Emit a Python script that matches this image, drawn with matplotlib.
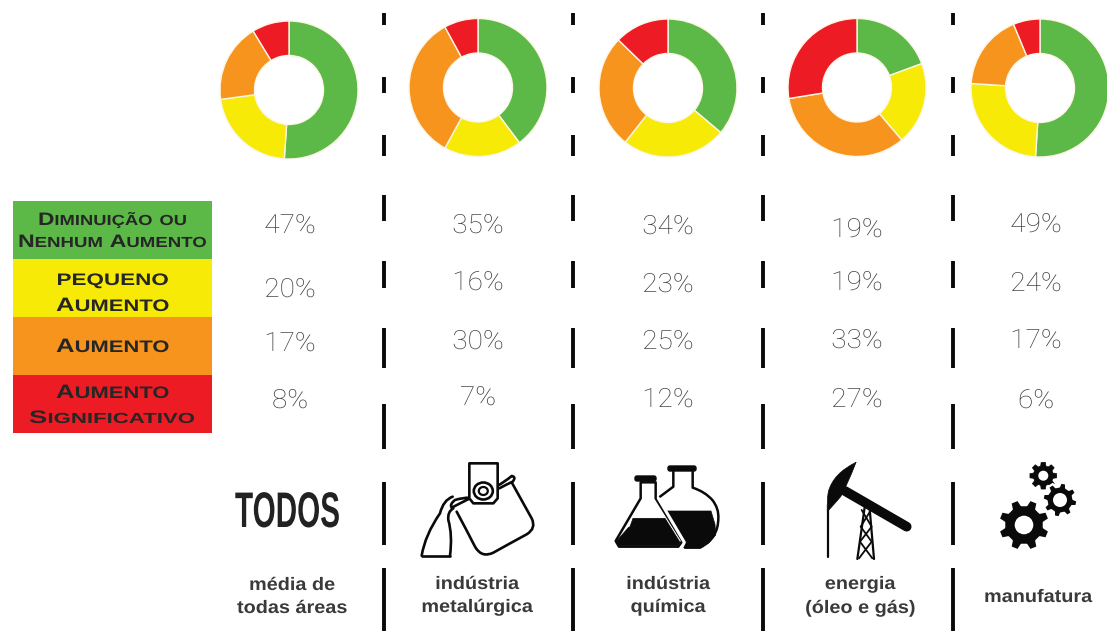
"""
Donut panel - industry sectors, recreated in pixel coordinates.
"""
import re
import numpy as np
import matplotlib
matplotlib.use("Agg")
import matplotlib.pyplot as plt
from matplotlib.patches import Rectangle, Circle, Ellipse, Polygon, FancyBboxPatch, PathPatch
from matplotlib.path import Path
from matplotlib.patheffects import AbstractPathEffect
from matplotlib.transforms import Affine2D

# data
SECTORS = ["todos", "metalurgica", "quimica", "energia", "manufatura"]
DIMINUICAO = [47, 35, 34, 19, 49]
PEQUENO = [20, 16, 23, 19, 24]
AUMENTO = [17, 30, 25, 33, 17]
SIGNIFICATIVO = [8, 7, 12, 27, 6]
LEGEND_LABELS = [["Diminuição ou", "Nenhum Aumento"], ["pequeno", "Aumento"],
                 ["Aumento"], ["Aumento", "Significativo"]]
SECTOR_LABELS = [["média de", "todas áreas"], ["indústria", "metalúrgica"],
                 ["indústria", "química"], ["energia", "(óleo e gás)"], ["manufatura"]]
COLORS = ["#5cb947", "#f6ea06", "#f7941d", "#ed1c24"]

W, H = 1107, 631
DARK = "#3a3a3a"
INK = "#0a0a0a"

# layout in picture pixels
DONUTS = [(289, 90), (478, 87.5), (668, 88), (857, 87.5), (1040, 88)]
RADIUS = 69
PCT_X = [290, 478, 668, 857, 1036]
PCT_Y = [[233, 297, 351, 408], [233, 290, 349, 405], [234, 292, 349, 407],
         [237, 290, 348, 407], [232, 291, 348, 408]]
DASH_X = [383.5, 573, 763, 953]
DASHES = [(13, 25), (77, 93), (135, 156), (195, 221), (261, 288), (328, 368),
          (404, 449), (482, 545), (568, 631)]
LEGEND_TOP = [201, 259, 317, 375, 433]
LEGEND_LINES = [[(225, 149), (247, 189)], [(285, 112), (311, 113)], [(352, 113)],
                [(398, 113), (423, 167)]]
LABEL_X = [292, 477, 668, 860, 1038]
LABEL_Y = [[590, 613], [589, 612], [589, 612], [589, 613], [602]]


class Stretch(AbstractPathEffect):
    """Scale drawn text horizontally about a pixel x."""
    def __init__(self, sx, x0):
        super().__init__()
        self.sx = sx
        self.x0 = x0

    def draw_path(self, renderer, gc, tpath, affine, rgbFace=None):
        t = affine + Affine2D().translate(-self.x0, 0).scale(self.sx, 1).translate(self.x0, 0)
        renderer.draw_path(gc, tpath, t, rgbFace)


fig = plt.figure(figsize=(W / 100, H / 100), dpi=100, facecolor="white")
ax = fig.add_axes([0, 0, 1, 1])

# donuts
for i in range(len(SECTORS)):
    vals = [DIMINUICAO[i], PEQUENO[i], AUMENTO[i], SIGNIFICATIVO[i]]
    ax.pie(vals, colors=COLORS, center=DONUTS[i], radius=RADIUS, startangle=-90,
           counterclock=True, frame=True,
           wedgeprops=dict(width=RADIUS * 0.5, edgecolor="#fdf6e6", linewidth=1))

ax.set_xlim(0, W)
ax.set_ylim(H, 0)
ax.axis("off")

# dashed separators
for x in DASH_X:
    for y0, y1 in DASHES:
        ax.plot([x, x], [y0, y1], color=INK, lw=2.8, solid_capstyle="butt")

# percent labels
for i in range(len(SECTORS)):
    vals = [DIMINUICAO[i], PEQUENO[i], AUMENTO[i], SIGNIFICATIVO[i]]
    for j in range(4):
        t = ax.text(PCT_X[i], PCT_Y[i][j], "%d%%" % vals[j], ha="center", va="baseline",
                    family="Roboto", weight="light", fontsize=19, color=DARK)
        t.set_path_effects([Stretch(1.06, PCT_X[i])])

# legend
renderer = fig.canvas.get_renderer()
for k in range(4):
    ax.add_patch(Rectangle((13, LEGEND_TOP[k]), 199, LEGEND_TOP[k + 1] - LEGEND_TOP[k],
                           facecolor=COLORS[k], edgecolor="none"))
    for line, (base, width) in zip(LEGEND_LABELS[k], LEGEND_LINES[k]):
        x = 0
        runs = []
        big_size, small_size = (14, 12) if width <= 113 else (13, 10.5)
        for part in re.findall(r"[A-Z]+|[a-zçã]+| ", line):
            if part == " ":
                x += 5
                continue
            big = part.isupper()
            t = ax.text(x, base, part.upper(), ha="left", va="baseline", family="Liberation Sans",
                        weight="bold", fontsize=big_size if big else small_size, color="#262626")
            w = t.get_window_extent(renderer).width
            runs.append((t, x))
            x += w
        x0 = 112.5 - width / 2
        for t, rx in runs:
            t.set_x(x0 + rx)
            t.set_path_effects([Stretch(width / x, x0)])

# sector labels
for i in range(len(SECTORS)):
    for line, y in zip(SECTOR_LABELS[i], LABEL_Y[i]):
        t = ax.text(LABEL_X[i], y, line, ha="center", va="baseline", family="Liberation Sans",
                    weight="bold", fontsize=13, color=DARK)
        t.set_path_effects([Stretch(1.1, LABEL_X[i])])

# TODOS word
t = ax.text(235, 527, "TODOS", ha="left", va="baseline", family="Liberation Sans",
            weight="bold", fontsize=36, color="#222222")
t.set_path_effects([Stretch(105 / t.get_window_extent(renderer).width, 235)])


def ink(points, closed=False, lw=2.0, face="none", ec=INK, z=3):
    """Straight outline through points given in pixels."""
    pts = np.array(points, dtype=float)
    ax.add_patch(Polygon(pts, closed=closed, facecolor=face, edgecolor=ec, lw=lw,
                         joinstyle="round", capstyle="round", zorder=z))


def curve(points, lw=2.0, face="none", ec=INK, z=3):
    """Quadratic spline: pairs of control and end points after the start."""
    codes = [Path.MOVETO] + [Path.CURVE3] * (len(points) - 1)
    ax.add_patch(PathPatch(Path(points, codes), facecolor=face, edgecolor=ec, lw=lw,
                           joinstyle="round", capstyle="round", zorder=z))


# metallurgy icon (zoom coordinates / 3 + origin)
def mx(pts):
    return [(410 + a / 3, 455 + b / 3) for a, b in pts]


curve(mx([(305, 82), (335, 136), (365, 190), (380, 220), (350, 238), (300, 265), (250, 293),
          (215, 310), (195, 275), (168, 222), (140, 170)]), lw=1.9)
curve(mx([(263, 92), (285, 80), (305, 63), (320, 65), (308, 80), (290, 88), (268, 100)]), lw=1.9)
curve(mx([(180, 130), (150, 145), (125, 158), (118, 148), (135, 135), (158, 128), (178, 128)]), lw=1.9)
ink(mx([(178, 25), (263, 25), (263, 130), (250, 145), (190, 145), (178, 130)]), closed=True, lw=1.9, face="white", z=4)
ax.add_patch(Ellipse((483.3, 491), 19, 17, facecolor="none", edgecolor=INK, lw=1.9, zorder=5))
ax.add_patch(Ellipse((483.3, 491), 9, 8, facecolor="none", edgecolor=INK, lw=1.6, zorder=5))
curve(mx([(128, 125), (100, 135), (90, 175), (45, 240), (35, 302)]), lw=1.9)
ink(mx([(35, 302), (120, 302)]), lw=1.9)
curve(mx([(120, 302), (128, 240), (115, 195), (112, 170), (130, 160)]), lw=1.9)


# flasks icon
def fx(pts):
    return [(605 + a / 3, 455 + b / 3) for a, b in pts]


# right flask first, left one on top with a white halo
ink(fx([(205, 50), (205, 95), (165, 125)]), lw=1.8)
curve(fx([(263, 50), (263, 72), (263, 98), (300, 110), (322, 135), (342, 160), (340, 190),
          (340, 250), (285, 278), (262, 278), (240, 278)]), lw=1.8)
ink(fx([(185, 168), (318, 168), (330, 208), (332, 240), (310, 265), (280, 278), (235, 278)]),
    closed=True, face=INK, lw=0.5)
ax.add_patch(FancyBboxPatch((668, 466), 28, 5, boxstyle="round,pad=0,rounding_size=2",
                            facecolor=INK, edgecolor=INK, lw=1, zorder=6))
ink(fx([(107, 82), (107, 130), (32, 258), (42, 275), (220, 275), (232, 258), (152, 130), (152, 82)]),
    closed=True, face="white", lw=1.8, z=4)
ink(fx([(160, 130), (238, 262), (228, 282)]), ec="white", lw=2.2, z=4)
ink(fx([(84, 190), (180, 190), (225, 262), (218, 272), (42, 272), (35, 258), (70, 218), (75, 215)]),
    closed=True, face=INK, lw=0.5, z=5)
ax.add_patch(FancyBboxPatch((635, 476), 21, 5, boxstyle="round,pad=0,rounding_size=2",
                            facecolor=INK, edgecolor=INK, lw=1, zorder=6))


# pump jack icon
def px(pts):
    return [(810 + a / 3, 455 + b / 3) for a, b in pts]


curve(px([(138, 22), (70, 55), (55, 110), (50, 140), (52, 170), (75, 145), (92, 125), (110, 95), (138, 22)]),
      face=INK, lw=0.5)
ink(px([(55, 165), (55, 307)]), lw=1.6)
ink(px([(105, 108), (290, 215)]), lw=7.0)
ink(px([(165, 150), (142, 312)]), lw=1.6)
ink(px([(178, 150), (192, 312)]), lw=1.6)
ink(px([(155, 165), (185, 215), (150, 260), (187, 310)]), lw=1.3)
ink(px([(183, 165), (152, 215), (185, 260), (147, 310)]), lw=1.3)


# gear icon
def gear(cx, cy, outer, root, hole, teeth=8, phase=0.0, halo=False):
    pts = []
    step = 2 * np.pi / teeth
    for n in range(teeth):
        a = phase + step * n
        for da, r in [(-0.34, root), (-0.2, outer), (0.2, outer), (0.34, root)]:
            pts.append((cx + r * np.cos(a + da * step), cy + r * np.sin(a + da * step)))
    ax.add_patch(Polygon(pts, closed=True, facecolor=INK, edgecolor="white" if halo else INK,
                         lw=1.6 if halo else 0.5, joinstyle="round", zorder=4))
    ax.add_patch(Circle((cx, cy), hole, facecolor="white", edgecolor="none", zorder=5))


gear(1043.3, 475.7, 13.5, 10, 5)
gear(1060, 500, 17.5, 13.5, 7, phase=0.2, halo=True)
gear(1024, 525, 26, 20, 9.3, phase=np.pi / 8, halo=True)

fig.savefig("out.png", dpi=100, facecolor="white")
